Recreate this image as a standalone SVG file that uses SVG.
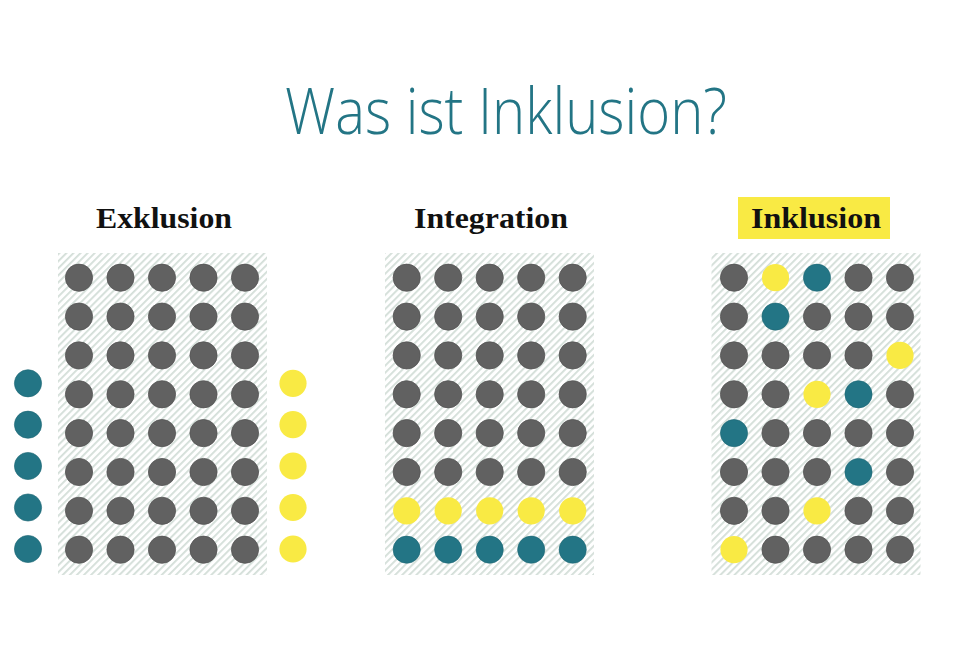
<svg xmlns="http://www.w3.org/2000/svg" width="980" height="653" viewBox="0 0 980 653">
<defs>
<pattern id="hatch" patternUnits="userSpaceOnUse" width="5" height="5" patternTransform="rotate(45)">
<rect width="5" height="5" fill="#ffffff"/>
<rect x="0" y="0" width="1.8" height="5" fill="#d3ded8"/>
</pattern>
</defs>
<style>
.title{font-family:"Open Sans","Liberation Sans",sans-serif;font-weight:300;font-size:64px;fill:#237585}
.head{font-family:"Liberation Serif","DejaVu Serif",serif;font-weight:bold;font-size:29px;fill:#111111}
.bg{fill:url(#hatch)}
.g{fill:#616161;stroke:#555555;stroke-width:0.8}
.y{fill:#f9ea44}
.b{fill:#237585;stroke:#1d6673;stroke-width:0.6}
</style>
<rect width="980" height="653" fill="#ffffff"/>
<g id="title"><text class="title" x="285" y="134" textLength="442" lengthAdjust="spacingAndGlyphs">Was ist Inklusion?</text></g>

<g id="exklusion">
<text class="head" x="96" y="228" textLength="136" lengthAdjust="spacingAndGlyphs">Exklusion</text>
<rect class="bg" x="58" y="253" width="209" height="322"/>
<g id="exklusion-grid">
<circle class="g" cx="79" cy="277.7" r="13.6"/><circle class="g" cx="120.5" cy="277.7" r="13.6"/><circle class="g" cx="162" cy="277.7" r="13.6"/><circle class="g" cx="203.5" cy="277.7" r="13.6"/><circle class="g" cx="245" cy="277.7" r="13.6"/>
<circle class="g" cx="79" cy="316.6" r="13.6"/><circle class="g" cx="120.5" cy="316.6" r="13.6"/><circle class="g" cx="162" cy="316.6" r="13.6"/><circle class="g" cx="203.5" cy="316.6" r="13.6"/><circle class="g" cx="245" cy="316.6" r="13.6"/>
<circle class="g" cx="79" cy="355.4" r="13.6"/><circle class="g" cx="120.5" cy="355.4" r="13.6"/><circle class="g" cx="162" cy="355.4" r="13.6"/><circle class="g" cx="203.5" cy="355.4" r="13.6"/><circle class="g" cx="245" cy="355.4" r="13.6"/>
<circle class="g" cx="79" cy="394.3" r="13.6"/><circle class="g" cx="120.5" cy="394.3" r="13.6"/><circle class="g" cx="162" cy="394.3" r="13.6"/><circle class="g" cx="203.5" cy="394.3" r="13.6"/><circle class="g" cx="245" cy="394.3" r="13.6"/>
<circle class="g" cx="79" cy="433.1" r="13.6"/><circle class="g" cx="120.5" cy="433.1" r="13.6"/><circle class="g" cx="162" cy="433.1" r="13.6"/><circle class="g" cx="203.5" cy="433.1" r="13.6"/><circle class="g" cx="245" cy="433.1" r="13.6"/>
<circle class="g" cx="79" cy="472" r="13.6"/><circle class="g" cx="120.5" cy="472" r="13.6"/><circle class="g" cx="162" cy="472" r="13.6"/><circle class="g" cx="203.5" cy="472" r="13.6"/><circle class="g" cx="245" cy="472" r="13.6"/>
<circle class="g" cx="79" cy="510.8" r="13.6"/><circle class="g" cx="120.5" cy="510.8" r="13.6"/><circle class="g" cx="162" cy="510.8" r="13.6"/><circle class="g" cx="203.5" cy="510.8" r="13.6"/><circle class="g" cx="245" cy="510.8" r="13.6"/>
<circle class="g" cx="79" cy="549.7" r="13.6"/><circle class="g" cx="120.5" cy="549.7" r="13.6"/><circle class="g" cx="162" cy="549.7" r="13.6"/><circle class="g" cx="203.5" cy="549.7" r="13.6"/><circle class="g" cx="245" cy="549.7" r="13.6"/>
</g>
<g id="exklusion-outside">
<circle class="b" cx="28" cy="383.3" r="13.6"/><circle class="b" cx="28" cy="424.7" r="13.6"/><circle class="b" cx="28" cy="466" r="13.6"/><circle class="b" cx="28" cy="507.5" r="13.6"/><circle class="b" cx="28" cy="549" r="13.6"/>
<circle class="y" cx="293" cy="383.3" r="13.6"/><circle class="y" cx="293" cy="424.7" r="13.6"/><circle class="y" cx="293" cy="466" r="13.6"/><circle class="y" cx="293" cy="507.5" r="13.6"/><circle class="y" cx="293" cy="549" r="13.6"/>
</g>
</g>

<g id="integration">
<text class="head" x="414" y="228" textLength="154" lengthAdjust="spacingAndGlyphs">Integration</text>
<rect class="bg" x="385" y="253" width="209" height="322"/>
<circle class="g" cx="406.7" cy="277.7" r="13.6"/><circle class="g" cx="448.2" cy="277.7" r="13.6"/><circle class="g" cx="489.7" cy="277.7" r="13.6"/><circle class="g" cx="531.2" cy="277.7" r="13.6"/><circle class="g" cx="572.7" cy="277.7" r="13.6"/>
<circle class="g" cx="406.7" cy="316.6" r="13.6"/><circle class="g" cx="448.2" cy="316.6" r="13.6"/><circle class="g" cx="489.7" cy="316.6" r="13.6"/><circle class="g" cx="531.2" cy="316.6" r="13.6"/><circle class="g" cx="572.7" cy="316.6" r="13.6"/>
<circle class="g" cx="406.7" cy="355.4" r="13.6"/><circle class="g" cx="448.2" cy="355.4" r="13.6"/><circle class="g" cx="489.7" cy="355.4" r="13.6"/><circle class="g" cx="531.2" cy="355.4" r="13.6"/><circle class="g" cx="572.7" cy="355.4" r="13.6"/>
<circle class="g" cx="406.7" cy="394.3" r="13.6"/><circle class="g" cx="448.2" cy="394.3" r="13.6"/><circle class="g" cx="489.7" cy="394.3" r="13.6"/><circle class="g" cx="531.2" cy="394.3" r="13.6"/><circle class="g" cx="572.7" cy="394.3" r="13.6"/>
<circle class="g" cx="406.7" cy="433.1" r="13.6"/><circle class="g" cx="448.2" cy="433.1" r="13.6"/><circle class="g" cx="489.7" cy="433.1" r="13.6"/><circle class="g" cx="531.2" cy="433.1" r="13.6"/><circle class="g" cx="572.7" cy="433.1" r="13.6"/>
<circle class="g" cx="406.7" cy="472" r="13.6"/><circle class="g" cx="448.2" cy="472" r="13.6"/><circle class="g" cx="489.7" cy="472" r="13.6"/><circle class="g" cx="531.2" cy="472" r="13.6"/><circle class="g" cx="572.7" cy="472" r="13.6"/>
<circle class="y" cx="406.7" cy="510.8" r="13.6"/><circle class="y" cx="448.2" cy="510.8" r="13.6"/><circle class="y" cx="489.7" cy="510.8" r="13.6"/><circle class="y" cx="531.2" cy="510.8" r="13.6"/><circle class="y" cx="572.7" cy="510.8" r="13.6"/>
<circle class="b" cx="406.7" cy="549.7" r="13.6"/><circle class="b" cx="448.2" cy="549.7" r="13.6"/><circle class="b" cx="489.7" cy="549.7" r="13.6"/><circle class="b" cx="531.2" cy="549.7" r="13.6"/><circle class="b" cx="572.7" cy="549.7" r="13.6"/>
</g>

<g id="inklusion">
<rect x="738" y="197" width="152" height="42" fill="#f9ea44"/>
<text class="head" x="751" y="228" textLength="130" lengthAdjust="spacingAndGlyphs">Inklusion</text>
<rect class="bg" x="711.5" y="253" width="209" height="322"/>
<circle class="g" cx="734" cy="277.7" r="13.6"/><circle class="y" cx="775.5" cy="277.7" r="13.6"/><circle class="b" cx="817" cy="277.7" r="13.6"/><circle class="g" cx="858.5" cy="277.7" r="13.6"/><circle class="g" cx="900" cy="277.7" r="13.6"/>
<circle class="g" cx="734" cy="316.6" r="13.6"/><circle class="b" cx="775.5" cy="316.6" r="13.6"/><circle class="g" cx="817" cy="316.6" r="13.6"/><circle class="g" cx="858.5" cy="316.6" r="13.6"/><circle class="g" cx="900" cy="316.6" r="13.6"/>
<circle class="g" cx="734" cy="355.4" r="13.6"/><circle class="g" cx="775.5" cy="355.4" r="13.6"/><circle class="g" cx="817" cy="355.4" r="13.6"/><circle class="g" cx="858.5" cy="355.4" r="13.6"/><circle class="y" cx="900" cy="355.4" r="13.6"/>
<circle class="g" cx="734" cy="394.3" r="13.6"/><circle class="g" cx="775.5" cy="394.3" r="13.6"/><circle class="y" cx="817" cy="394.3" r="13.6"/><circle class="b" cx="858.5" cy="394.3" r="13.6"/><circle class="g" cx="900" cy="394.3" r="13.6"/>
<circle class="b" cx="734" cy="433.1" r="13.6"/><circle class="g" cx="775.5" cy="433.1" r="13.6"/><circle class="g" cx="817" cy="433.1" r="13.6"/><circle class="g" cx="858.5" cy="433.1" r="13.6"/><circle class="g" cx="900" cy="433.1" r="13.6"/>
<circle class="g" cx="734" cy="472" r="13.6"/><circle class="g" cx="775.5" cy="472" r="13.6"/><circle class="g" cx="817" cy="472" r="13.6"/><circle class="b" cx="858.5" cy="472" r="13.6"/><circle class="g" cx="900" cy="472" r="13.6"/>
<circle class="g" cx="734" cy="510.8" r="13.6"/><circle class="g" cx="775.5" cy="510.8" r="13.6"/><circle class="y" cx="817" cy="510.8" r="13.6"/><circle class="g" cx="858.5" cy="510.8" r="13.6"/><circle class="g" cx="900" cy="510.8" r="13.6"/>
<circle class="y" cx="734" cy="549.7" r="13.6"/><circle class="g" cx="775.5" cy="549.7" r="13.6"/><circle class="g" cx="817" cy="549.7" r="13.6"/><circle class="g" cx="858.5" cy="549.7" r="13.6"/><circle class="g" cx="900" cy="549.7" r="13.6"/>
</g>
</svg>
